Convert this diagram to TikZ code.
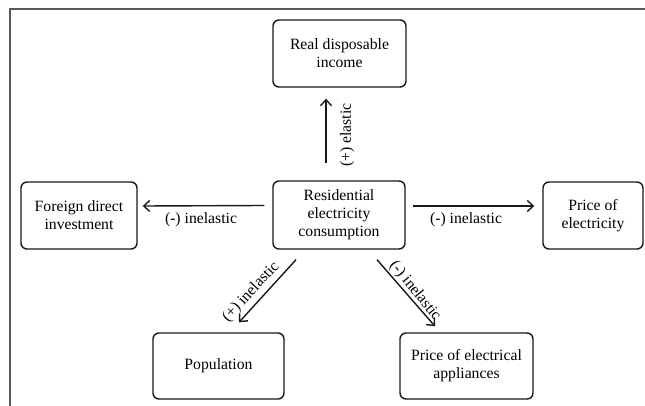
\documentclass[tikz,border=0pt]{standalone}
\usepackage{fontspec}
\setmainfont{Liberation Serif}
\usetikzlibrary{arrows.meta,calc}
\begin{document}
\begin{tikzpicture}[x=1pt,y=-1pt,
  box/.style={draw=black!90, line width=1.4pt, rounded corners=6pt, align=center,
    inner sep=0pt, font=\fontsize{15.7}{18}\selectfont, text=black},
  conn/.style={line width=1.4pt, draw=black!90,
    -{Straight Barb[length=6pt,width=11pt,line width=1.4pt]}},
  lbl/.style={font=\fontsize{15.7}{18}\selectfont, inner sep=0pt, text=black}]
\useasboundingbox (0,0) rectangle (645,406);
\draw[gray!70!black, line width=1.5pt] (645,9) -- (10,9) -- (10,406);

\node[box, minimum width=133pt, minimum height=67pt] (rdi) at (339.5,53.5) {Real disposable\\income};
\node[box, minimum width=132pt, minimum height=68pt] (central) at (339,215) {Residential\\electricity\\consumption};
\node[box, minimum width=116pt, minimum height=67pt] (fdi) at (79,215.5) {Foreign direct\\investment};
\node[box, minimum width=100pt, minimum height=67pt] (poe) at (593,215.5) {Price of\\electricity};
\node[box, minimum width=131pt, minimum height=66pt] (pop) at (218.5,366) {Population};
\node[box, minimum width=133pt, minimum height=66pt] (poea) at (466.5,366) {Price of electrical\\appliances};

\draw[conn] ($(central.north)+(-13,-17)$) -- ($(rdi.south)+(-13.5,11)$);
\draw[conn] ($(central.west)+(-8,-9.5)$) -- ($(fdi.east)+(5,-9.5)$);
\draw[conn] ($(central.east)+(7,-9)$) -- ($(poe.west)+(-8,-9.5)$);
\draw[conn] ($(central.south)+(-43,10)$) -- ($(pop.north)+(20.5,-10)$);
\draw[conn] ($(central.south)+(38,10)$) -- ($(poea.north)+(-31.5,-6)$);

\node[lbl, rotate=90] (lup) at (347,135) {(+) elastic};
\node[lbl] (lleft) at (201,220) {(-) inelastic};
\node[lbl] (lright) at (466,220) {(-) inelastic};
\node[lbl, rotate=47] (ldl) at (251,292) {(+) inelastic};
\node[lbl, rotate=-51] (ldr) at (415,291) {(-) inelastic};
\end{tikzpicture}
\end{document}
